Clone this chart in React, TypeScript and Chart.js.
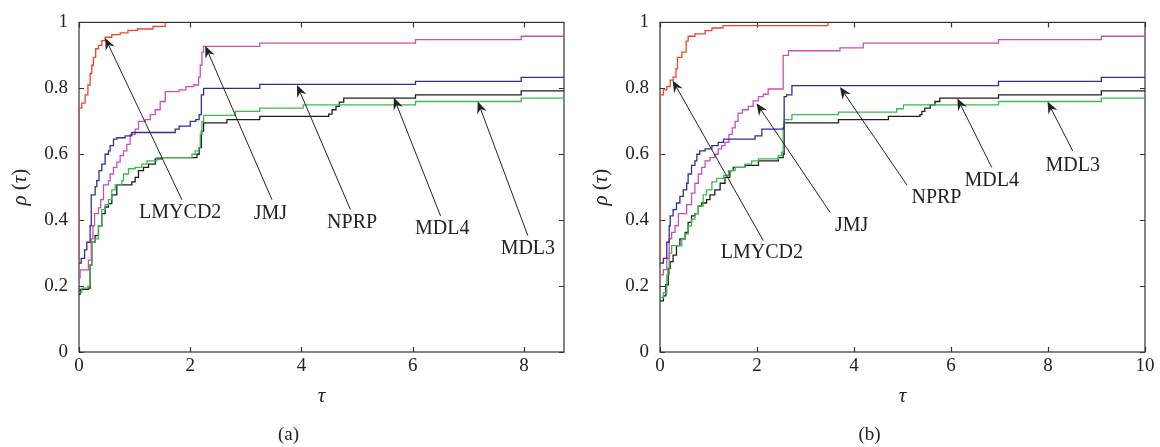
import React, { useEffect, useRef } from "react";
import { Chart, registerables } from "chart.js";
Chart.register(...registerables);

// ---------- data ----------
const seriesNames = ["LMYCD2", "NPRP", "JMJ", "MDL3", "MDL4"];
const seriesColors = ["#f2442a", "#2e2e9a", "#cc4fb0", "#3cba4c", "#1e1e1e"];

const yTicksStep = 0.2;
const xTicksStep = 2;
const xMaxA = 8.72;
const xMaxB = 10;

// Panel (a)
const aLmycd2X = [0, 0, 0.05, 0.11, 0.16, 0.2, 0.23, 0.26, 0.3, 0.35, 0.41, 0.47, 0.59, 0.74, 0.88, 1.05, 1.33, 1.55];
const aLmycd2Y = [0.27, 0.74, 0.755, 0.78, 0.81, 0.845, 0.87, 0.894, 0.92, 0.93, 0.945, 0.955, 0.963, 0.968, 0.976, 0.98, 0.988, 1.0];
const aNprpX = [0, 0.04, 0.1, 0.14, 0.2, 0.22, 0.29, 0.32, 0.36, 0.41, 0.47, 0.53, 0.56, 0.62, 0.68, 0.83, 0.95, 1.73, 1.8, 2.0, 2.1, 2.16, 2.2, 2.24, 3.25, 6.05, 7.95, 8.72];
const aNprpY = [0.27, 0.284, 0.31, 0.333, 0.383, 0.477, 0.502, 0.52, 0.55, 0.57, 0.6, 0.61, 0.626, 0.646, 0.65, 0.656, 0.666, 0.676, 0.685, 0.7, 0.705, 0.72, 0.78, 0.8, 0.812, 0.821, 0.833, 0.833];
const aJmjX = [0, 0, 0.02, 0.17, 0.22, 0.25, 0.28, 0.35, 0.39, 0.44, 0.53, 0.56, 0.62, 0.68, 0.74, 0.8, 0.86, 0.92, 1.01, 1.07, 1.19, 1.28, 1.37, 1.46, 1.55, 1.8, 1.92, 2.06, 2.15, 2.18, 2.21, 2.24, 3.25, 6.05, 7.95, 8.72];
const aJmjY = [0.214, 0.224, 0.249, 0.279, 0.343, 0.383, 0.42, 0.4375, 0.462, 0.507, 0.52, 0.54, 0.56, 0.576, 0.596, 0.61, 0.63, 0.66, 0.676, 0.7, 0.705, 0.72, 0.735, 0.76, 0.79, 0.795, 0.805, 0.81, 0.834, 0.87, 0.91, 0.927, 0.937, 0.948, 0.958, 0.958];
const aMdl3X = [0, 0.05, 0.16, 0.2, 0.23, 0.29, 0.35, 0.41, 0.47, 0.53, 0.59, 0.65, 0.77, 0.8, 0.89, 1.01, 1.13, 1.22, 1.4, 2.03, 2.09, 2.15, 2.18, 2.21, 2.24, 2.81, 3.25, 4.03, 6.05, 7.95, 8.72];
const aMdl3Y = [0.18, 0.194, 0.2, 0.264, 0.333, 0.343, 0.383, 0.432, 0.447, 0.462, 0.492, 0.507, 0.52, 0.54, 0.556, 0.56, 0.57, 0.58, 0.59, 0.6, 0.61, 0.62, 0.66, 0.7, 0.718, 0.73, 0.74, 0.75, 0.76, 0.77, 0.77];
const aMdl4X = [0, 0.02, 0.17, 0.2, 0.23, 0.29, 0.35, 0.41, 0.47, 0.53, 0.59, 0.68, 0.95, 1.01, 1.07, 1.16, 1.25, 1.37, 1.49, 2.12, 2.16, 2.2, 2.24, 2.66, 3.25, 4.49, 4.55, 4.62, 4.68, 4.76, 6.05, 7.95, 8.72];
const aMdl4Y = [0.175, 0.19, 0.194, 0.264, 0.333, 0.353, 0.383, 0.42, 0.44, 0.45, 0.477, 0.507, 0.516, 0.53, 0.55, 0.56, 0.57, 0.586, 0.59, 0.6, 0.62, 0.67, 0.695, 0.705, 0.715, 0.722, 0.735, 0.745, 0.758, 0.77, 0.78, 0.792, 0.792];

// Panel (b)
const bLmycd2X = [0, 0, 0.07, 0.14, 0.21, 0.27, 0.33, 0.36, 0.45, 0.54, 0.58, 0.72, 0.93, 1.07, 1.3, 3.46];
const bLmycd2Y = [0.27, 0.78, 0.795, 0.805, 0.825, 0.834, 0.86, 0.894, 0.91, 0.943, 0.958, 0.965, 0.975, 0.983, 0.99, 1.0];
const bNprpX = [0, 0.07, 0.14, 0.19, 0.21, 0.27, 0.34, 0.41, 0.48, 0.55, 0.58, 0.65, 0.72, 0.76, 0.82, 0.93, 1.07, 1.2, 1.31, 1.96, 2.1, 2.54, 2.56, 2.61, 2.72, 6.98, 9.1, 10];
const bNprpY = [0.27, 0.284, 0.333, 0.383, 0.413, 0.432, 0.452, 0.472, 0.492, 0.512, 0.54, 0.566, 0.58, 0.6, 0.61, 0.616, 0.626, 0.636, 0.646, 0.656, 0.676, 0.68, 0.775, 0.78, 0.808, 0.821, 0.833, 0.833];
const bJmjX = [0, 0.07, 0.14, 0.19, 0.24, 0.31, 0.38, 0.55, 0.65, 0.72, 0.79, 0.86, 0.93, 1.03, 1.13, 1.2, 1.27, 1.34, 1.42, 1.49, 1.55, 1.61, 1.7, 1.82, 1.92, 2.03, 2.13, 2.23, 2.54, 2.65, 3.71, 4.19, 6.98, 9.1, 10];
const bJmjY = [0.234, 0.25, 0.284, 0.343, 0.363, 0.383, 0.42, 0.447, 0.482, 0.512, 0.54, 0.56, 0.58, 0.59, 0.6, 0.616, 0.626, 0.636, 0.66, 0.68, 0.7, 0.725, 0.735, 0.745, 0.762, 0.775, 0.782, 0.798, 0.9, 0.914, 0.923, 0.937, 0.948, 0.958, 0.958];
const bMdl3X = [0, 0.07, 0.14, 0.19, 0.24, 0.45, 0.52, 0.58, 0.65, 0.72, 0.79, 0.89, 0.96, 1.07, 1.17, 1.31, 1.41, 1.55, 1.75, 1.89, 2.03, 2.44, 2.51, 2.54, 2.56, 2.72, 3.68, 4.88, 5.02, 6.98, 9.1, 10];
const bMdl3Y = [0.165, 0.18, 0.234, 0.3, 0.323, 0.343, 0.358, 0.383, 0.403, 0.42, 0.443, 0.477, 0.492, 0.516, 0.527, 0.536, 0.55, 0.56, 0.57, 0.58, 0.586, 0.596, 0.606, 0.68, 0.705, 0.72, 0.728, 0.738, 0.75, 0.76, 0.77, 0.77];
const bMdl4X = [0, 0.07, 0.12, 0.17, 0.21, 0.27, 0.34, 0.41, 0.52, 0.58, 0.65, 0.72, 0.79, 0.86, 0.96, 1.03, 1.13, 1.24, 1.34, 1.44, 1.51, 1.75, 2.03, 2.44, 2.54, 2.56, 3.68, 4.71, 5.36, 5.4, 5.46, 5.57, 5.67, 5.77, 6.98, 9.1, 10];
const bMdl4Y = [0.155, 0.17, 0.204, 0.254, 0.274, 0.294, 0.323, 0.343, 0.363, 0.393, 0.413, 0.42, 0.443, 0.452, 0.462, 0.477, 0.492, 0.512, 0.53, 0.55, 0.56, 0.566, 0.58, 0.59, 0.6, 0.695, 0.705, 0.715, 0.72, 0.73, 0.74, 0.75, 0.76, 0.77, 0.78, 0.792, 0.792];

// Annotations (data coordinates): arrow tip, arrow tail, label centre
const annLabels = ["LMYCD2", "JMJ", "NPRP", "MDL4", "MDL3"];
const aTipX = [0.47, 2.27, 3.92, 5.66, 7.17];
const aTipY = [0.953, 0.929, 0.81, 0.772, 0.76];
const aTailX = [1.85, 3.47, 4.88, 6.5, 8.07];
const aTailY = [0.462, 0.462, 0.432, 0.413, 0.353];
const aTextX = [1.82, 3.44, 4.91, 6.53, 8.07];
const aTextY = [0.423, 0.418, 0.393, 0.373, 0.313];

const bTipX = [0.26, 1.99, 3.71, 6.13, 7.99];
const bTipY = [0.824, 0.755, 0.804, 0.77, 0.76];
const bTailX = [2.13, 3.51, 5.09, 6.84, 8.51];
const bTailY = [0.338, 0.423, 0.507, 0.56, 0.61];
const bTextX = [2.1, 3.95, 5.7, 6.84, 8.51];
const bTextY = [0.3, 0.383, 0.467, 0.52, 0.566];

// ---------- styles / layout ----------
const FONT = '"Liberation Serif", "DejaVu Serif", serif';
const INK = "#222";

type PanelCfg = {
  label: string;
  xMax: number;
  xs: number[][];
  ys: number[][];
  tipX: number[]; tipY: number[]; tailX: number[]; tailY: number[]; textX: number[]; textY: number[];
  canvasLeft: number;
  yAxisWidth: number;
  padRight: number;
};

const panelA: PanelCfg = {
  label: "(a)", xMax: xMaxA,
  xs: [aLmycd2X, aNprpX, aJmjX, aMdl3X, aMdl4X],
  ys: [aLmycd2Y, aNprpY, aJmjY, aMdl3Y, aMdl4Y],
  tipX: aTipX, tipY: aTipY, tailX: aTailX, tailY: aTailY, textX: aTextX, textY: aTextY,
  canvasLeft: 0, yAxisWidth: 79, padRight: 16,
};
const panelB: PanelCfg = {
  label: "(b)", xMax: xMaxB,
  xs: [bLmycd2X, bNprpX, bJmjX, bMdl3X, bMdl4X],
  ys: [bLmycd2Y, bNprpY, bJmjY, bMdl3Y, bMdl4Y],
  tipX: bTipX, tipY: bTipY, tailX: bTailX, tailY: bTailY, textX: bTextX, textY: bTextY,
  canvasLeft: 580, yAxisWidth: 80, padRight: 15,
};

function makeDecor(cfg: PanelCfg) {
  return {
    id: "decor",
    beforeDatasetsDraw(chart: any) {
      const { ctx, chartArea: ca, scales } = chart;
      ctx.save();
      ctx.strokeStyle = "#333";
      ctx.lineWidth = 1.2;
      ctx.strokeRect(ca.left, ca.top, ca.right - ca.left, ca.bottom - ca.top);
      const tl = 5;
      ctx.beginPath();
      scales.x.ticks.forEach((t: any) => {
        const px = Math.round(scales.x.getPixelForValue(t.value)) + 0.5;
        ctx.moveTo(px, ca.bottom); ctx.lineTo(px, ca.bottom - tl);
        ctx.moveTo(px, ca.top); ctx.lineTo(px, ca.top + tl);
      });
      scales.y.ticks.forEach((t: any) => {
        const py = Math.round(scales.y.getPixelForValue(t.value)) + 0.5;
        ctx.moveTo(ca.left, py); ctx.lineTo(ca.left + tl, py);
        ctx.moveTo(ca.right, py); ctx.lineTo(ca.right - tl, py);
      });
      ctx.stroke();
      ctx.restore();
    },
    afterDatasetsDraw(chart: any) {
      const { ctx, scales } = chart;
      const sx = scales.x, sy = scales.y;
      ctx.save();
      ctx.strokeStyle = INK;
      ctx.fillStyle = INK;
      ctx.lineWidth = 1;
      for (let i = 0; i < annLabels.length; i++) {
        const tx = sx.getPixelForValue(cfg.tipX[i]);
        const ty = sy.getPixelForValue(cfg.tipY[i]);
        const bx = sx.getPixelForValue(cfg.tailX[i]);
        const by = sy.getPixelForValue(cfg.tailY[i]);
        const dx = tx - bx, dy = ty - by;
        const len = Math.hypot(dx, dy);
        const ux = dx / len, uy = dy / len;
        const nx = -uy, ny = ux;
        const L = 12, W = 5, N = 8;
        ctx.beginPath();
        ctx.moveTo(bx, by);
        ctx.lineTo(tx - ux * N, ty - uy * N);
        ctx.stroke();
        ctx.beginPath();
        ctx.moveTo(tx, ty);
        ctx.lineTo(tx - ux * L + nx * W, ty - uy * L + ny * W);
        ctx.lineTo(tx - ux * N, ty - uy * N);
        ctx.lineTo(tx - ux * L - nx * W, ty - uy * L - ny * W);
        ctx.closePath();
        ctx.fill();
        ctx.font = `20px ${FONT}`;
        ctx.textAlign = "center";
        ctx.textBaseline = "middle";
        ctx.fillText(annLabels[i], sx.getPixelForValue(cfg.textX[i]), sy.getPixelForValue(cfg.textY[i]));
      }
      ctx.restore();
    },
    afterDraw(chart: any) {
      const { ctx, chartArea: ca } = chart;
      const cx = (ca.left + ca.right) / 2;
      ctx.save();
      ctx.fillStyle = INK;
      ctx.font = `italic 21px ${FONT}`;
      ctx.textAlign = "center";
      ctx.textBaseline = "alphabetic";
      ctx.fillText("\u03c4", cx, ca.bottom + 50);
      ctx.font = `19px ${FONT}`;
      ctx.fillText(cfg.label, cx - 33, ca.bottom + 88);
      const parts: [string, string][] = [["\u03c1", "italic"], [" (", "normal"], ["\u03c4", "italic"], [")", "normal"]];
      ctx.translate(ca.left - 59, (ca.top + ca.bottom) / 2);
      ctx.rotate(-Math.PI / 2);
      ctx.textAlign = "left";
      ctx.textBaseline = "middle";
      let total = 0;
      const widths = parts.map(([s, st]) => {
        ctx.font = `${st} 21px ${FONT}`;
        const w = ctx.measureText(s).width;
        total += w;
        return w;
      });
      let x = -total / 2;
      parts.forEach(([s, st], i) => {
        ctx.font = `${st} 21px ${FONT}`;
        ctx.fillText(s, x, 0);
        x += widths[i];
      });
      ctx.restore();
    },
  };
}

function Panel({ cfg }: { cfg: PanelCfg }) {
  const ref = useRef<HTMLCanvasElement | null>(null);
  useEffect(() => {
    if (!ref.current) return;
    let chart: any = null;
    let cancelled = false;
    const build = () => {
      if (cancelled || !ref.current) return;
      const datasets = seriesNames.map((name, si) => ({
        label: name,
        data: cfg.xs[si].map((x, i) => ({ x, y: cfg.ys[si][i] })),
        borderColor: seriesColors[si],
        backgroundColor: seriesColors[si],
        borderWidth: 1.3,
        pointRadius: 0,
        stepped: "before" as const,
        fill: false,
        tension: 0,
      }));
      chart = new Chart(ref.current, {
        type: "line",
        data: { datasets },
        options: {
          animation: false,
          responsive: false,
          events: [],
          font: { family: FONT },
          layout: { padding: { top: 16, right: cfg.padRight, left: 0, bottom: 0 } },
          plugins: { legend: { display: false }, tooltip: { enabled: false } },
          scales: {
            x: {
              type: "linear",
              min: 0,
              max: cfg.xMax,
              afterFit: (s: any) => { s.height = 95; },
              grid: { display: false, drawTicks: false },
              border: { display: false },
              ticks: {
                stepSize: xTicksStep,
                includeBounds: false,
                padding: 3,
                color: INK,
                maxRotation: 0,
                autoSkip: false,
                font: { family: FONT, size: 19 },
              },
            },
            y: {
              type: "linear",
              min: 0,
              max: 1,
              afterFit: (s: any) => { s.width = cfg.yAxisWidth; },
              grid: { display: false, drawTicks: false },
              border: { display: false },
              ticks: {
                stepSize: yTicksStep,
                padding: 11,
                color: INK,
                font: { family: FONT, size: 19 },
                callback: (v: any) => String(Number(Number(v).toFixed(1))),
              },
            },
          },
        },
        plugins: [makeDecor(cfg)],
      } as any);
    };
    const fonts: any = (document as any).fonts;
    if (fonts && fonts.load) {
      Promise.all([
        fonts.load('19px "Liberation Serif"'),
        fonts.load('italic 21px "Liberation Serif"'),
      ]).then(build, build);
    } else {
      build();
    }
    return () => {
      cancelled = true;
      if (chart) chart.destroy();
    };
  }, [cfg]);
  return (
    <canvas
      ref={ref}
      width={580}
      height={447}
      style={{ position: "absolute", left: cfg.canvasLeft, top: 0, width: 580, height: 447 }}
    />
  );
}

export default function App() {
  return (
    <div style={{ position: "absolute", left: 0, top: 0, width: 1160, height: 447, background: "#fff", overflow: "hidden" }}>
      <Panel cfg={panelA} />
      <Panel cfg={panelB} />
    </div>
  );
}
